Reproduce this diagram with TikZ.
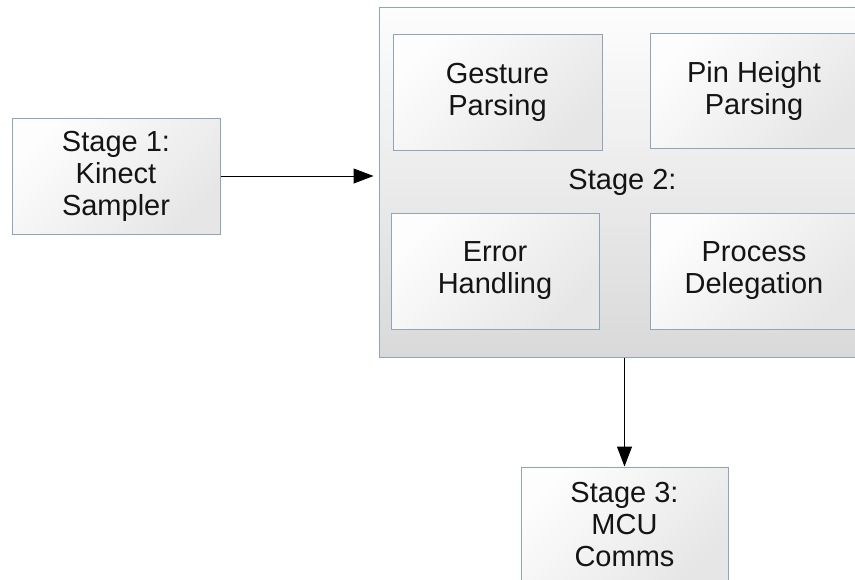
\documentclass[tikz,border=0pt]{standalone}
\usepackage{fontspec}
\setmainfont{Liberation Sans}
\usetikzlibrary{arrows.meta}

\definecolor{boxedge}{HTML}{8FA5B9}
\definecolor{lightend}{HTML}{FDFDFD}
\definecolor{darkend}{HTML}{E6E6E6}
\definecolor{outerdark}{HTML}{D9D9D9}
\definecolor{inktext}{HTML}{141414}

\begin{document}
\begin{tikzpicture}[x=1pt, y=-1pt,
  stagebox/.style={draw=boxedge, line width=1pt, inner sep=0pt,
    top color=lightend, bottom color=darkend, shading angle=45,
    minimum width=208pt, minimum height=116pt,
    font=\fontsize{29}{32}\selectfont, text=inktext, align=center},
  outerbox/.style={stagebox, bottom color=outerdark,
    minimum width=487pt, minimum height=350pt},
  flow/.style={draw=black, line width=1pt,
    -{Triangle[length=20pt, width=15pt]}}
]
\useasboundingbox (0,0) rectangle (855,579);
\clip (0,0) rectangle (855,579);

% Stage 1
\node[stagebox] (s1) at (116,176) {Stage 1:\\Kinect\\Sampler};

% Stage 2 container and its four parts
\node[outerbox] (s2) at (622.5,182) {Stage 2:};
\node[stagebox, minimum width=209pt] (gest) at (497.5,92) {Gesture\\Parsing};
\node[stagebox, minimum height=115pt] (pin) at (754,90.5) {Pin Height\\Parsing};
\node[stagebox] (err) at (495,271) {Error\\Handling};
\node[stagebox] (proc) at (754,271) {Process\\Delegation};

% Stage 3
\node[stagebox, minimum width=207pt] (s3) at (624.5,525) {Stage 3:\\MCU\\Comms};

% Connectors
\draw[flow, shorten >=5pt] (s1.east) -- (s1.east -| s2.west);
\draw[flow] (s3.north |- s2.south) -- (s3.north);
\end{tikzpicture}
\end{document}
